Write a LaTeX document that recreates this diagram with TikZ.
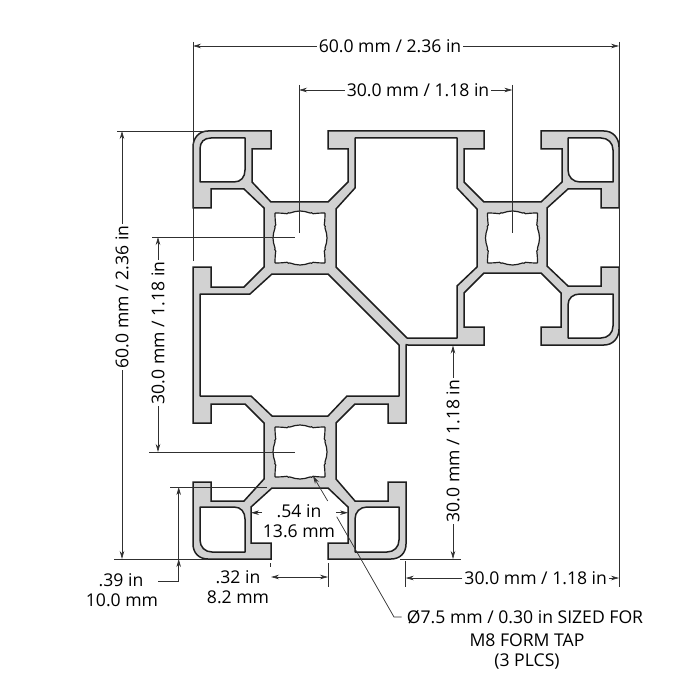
\documentclass[tikz,border=0pt]{standalone}
\usepackage{fontspec}
\setmainfont{Open Sans}
\usetikzlibrary{arrows.meta}
\definecolor{profilegray}{HTML}{D2D2D2}
\definecolor{edge}{HTML}{1E1E1E}
\definecolor{dimc}{HTML}{303030}
\tikzset{
  profile/.style={fill=profilegray,draw=edge,line width=1.5pt,line join=miter},
  hole/.style={fill=white,draw=edge,line width=1.5pt,line join=round},
  tapw/.style={fill=white,draw=edge,line width=1.2pt},
  dim/.style={draw=dimc,line width=0.7pt},
  dimar/.style={dim,-{Stealth[length=8pt,width=4.5pt]}},
  lab/.style={font=\fontsize{17.6}{20}\selectfont,text=black,inner sep=0pt,outer sep=2pt},
  tapped/.pic={\draw[tapw] plot[smooth cycle,tension=0.2] coordinates{
    (-24.5,-25) (-18,-24.8) (-13,-24.3) (-11.5,-25.2) (-10,-25) (-5,-26.4) (0,-27) (5,-26.4) (10,-25) (11.5,-25.2) (13,-24.3) (18,-24.8) (24.5,-25)
    (25,-24.5) (24.8,-18) (24.3,-13) (25.2,-11.5) (25,-10) (26.4,-5) (27,0) (26.4,5) (25,10) (25.2,11.5) (24.3,13) (24.8,18) (25,24.5)
    (24.5,25) (18,24.8) (13,24.3) (11.5,25.2) (10,25) (5,26.4) (0,27) (-5,26.4) (-10,25) (-11.5,25.2) (-13,24.3) (-18,24.8) (-24.5,25)
    (-25,24.5) (-24.8,18) (-24.3,13) (-25.2,11.5) (-25,10) (-26.4,5) (-27,0) (-26.4,-5) (-25,-10) (-25.2,-11.5) (-24.3,-13) (-24.8,-18) (-25,-24.5)};}
}
\begin{document}
\begin{tikzpicture}[x=1pt,y=-1pt]
\useasboundingbox[fill=white] (0,0) rectangle (700,700);
% profile outline
\path[profile]
 (193,147) .. controls (193,138) and (199,131) .. (208,131) -- (271,131) -- (271,149) -- (252,149) -- (252,182)
 -- (271,202) -- (328,202) -- (348,182) -- (348,149) -- (328,149) -- (328,131) -- (484,131) -- (484,149) -- (464,149) -- (464,182)
 -- (484,202) -- (541,202) -- (562,182) -- (562,149) -- (541,149) -- (541,131) -- (604,131)
 .. controls (613,131) and (619,138) .. (619,147) -- (619,208) -- (601,208) -- (601,189) -- (568,189) -- (547,208) -- (547,266)
 -- (568,286) -- (601,286) -- (601,267) -- (619,267) -- (619,329) .. controls (619,338) and (613,345) .. (604,345)
 -- (541,345) -- (541,327) -- (561,327) -- (561,293) -- (541,273) -- (484,273) -- (464,293) -- (464,327) -- (484,327) -- (484,345)
 -- (408,345) .. controls (406.5,343.5) and (405.5,345) .. (406,347) -- (406,423) -- (388,423) -- (388,404) -- (355,404) -- (336,423) -- (336,479)
 -- (355,501) -- (388,501) -- (388,482) -- (406,482) -- (406,544) .. controls (406,553) and (400,559) .. (391,559)
 -- (328,559) -- (328,543) -- (348,543) -- (348,507) -- (328,488) -- (272,488) -- (251,507) -- (251,543) -- (271,543) -- (271,559)
 -- (208,559) .. controls (199,559) and (193,553) .. (193,544) -- (193,482) -- (211,482) -- (211,501) -- (244,501) -- (264,479)
 -- (264,423) -- (245,404) -- (211,404) -- (211,423) -- (193,423) -- (193,267) -- (211,267) -- (211,287) -- (244,287) -- (264,267)
 -- (264,208) -- (244,189) -- (211,189) -- (211,208) -- (193,208) -- cycle;
% corner chambers
\path[hole] (200,182) -- (200,149) .. controls (200,142) and (204,138) .. (211,138) -- (245,138) -- (245,170)
 .. controls (245,177) and (241,182) .. (234,182) -- cycle;
\path[hole] (568,138) -- (601,138) .. controls (608,138) and (613,143) .. (613,150) -- (613,182) -- (580,182)
 .. controls (573,182) and (568,177) .. (568,170) -- cycle;
\path[hole] (613,294) -- (613,326) .. controls (613,333) and (608,338) .. (601,338) -- (568,338) -- (568,305)
 .. controls (568,298) and (573,294) .. (580,294) -- cycle;
\path[hole] (245,552) -- (212,552) .. controls (205,552) and (200,547) .. (200,540) -- (200,507) -- (234,507)
 .. controls (241,507) and (245,512) .. (245,519) -- cycle;
\path[hole] (355,552) -- (355,519) .. controls (355,512) and (360,507) .. (367,507) -- (399,507) -- (399,540)
 .. controls (399,547) and (394,552) .. (387,552) -- cycle;
% large hollows
\path[hole] (355,138) -- (457,138) -- (457,188) -- (477,209) -- (477,267) -- (457,286) -- (457,338) -- (407,338)
 -- (336,267) -- (336,209) -- (355,188) -- cycle;
\path[hole] (200,294) -- (250,294) -- (272,274) -- (328,274) -- (399,345) -- (399,396) -- (347,396) -- (328,416)
 -- (272,416) -- (251,396) -- (200,396) -- cycle;
% tapped centre holes
\pic at (300,238) {tapped};
\pic at (512.5,238) {tapped};
\pic at (300,452) {tapped};
% labels
\node[lab] (top) at (390,46) {60.0 mm / 2.36 in};
\node[lab] (sub) at (418,90) {30.0 mm / 1.18 in};
\node[lab,rotate=90] (left) at (122,297) {60.0 mm / 2.36 in};
\node[lab,rotate=90] (leftb) at (158,333) {30.0 mm / 1.18 in};
\node[lab,rotate=90] (rgt) at (453,451) {30.0 mm / 1.18 in};
\node[lab] (bot) at (535.7,578) {30.0 mm / 1.18 in};
\node[lab] (slotin) at (299,511.5) {.54 in};
\node[lab] (slotmm) at (299,531.5) {13.6 mm};
\node[lab] (tenin) at (121,580) {.39 in};
\node[lab] (tenmm) at (122,600) {10.0 mm};
\node[lab] (opin) at (238,577) {.32 in};
\node[lab] (opmm) at (238,597) {8.2 mm};
\node[lab] (tapa) at (525,617) {Ø7.5 mm / 0.30 in SIZED FOR};
\node[lab] (tapb) at (527,640) {M8 FORM TAP};
\node[lab] (tapc) at (527,662) {(3 PLCS)};
% dimension coordinates
\coordinate (tl) at (193,46); \coordinate (tr) at (619,46);
\coordinate (sl) at (299,90); \coordinate (sr) at (512.3,90);
\coordinate (lt) at (122,131); \coordinate (lb) at (122,559);
\coordinate (mt) at (158,237); \coordinate (mb) at (158,452);
\coordinate (rt) at (453,345.5); \coordinate (rb) at (453,559);
\coordinate (bl) at (405.7,578); \coordinate (br) at (619,578);
% extension lines
\draw[dim] (193,42) -- (193,261);
\draw[dim] (619,42) -- (619,587);
\draw[dim] (299,85) -- (299,233);
\draw[dim] (512.3,85) -- (512.3,233);
\draw[dim] (117,131) -- (207,131);
\draw[dim] (114,559) -- (208,559);
\draw[dim] (400,559) -- (461,559);
\draw[dim] (152,237) -- (295,237);
\draw[dim] (149,452) -- (295,452);
\draw[dim] (170,487) -- (267,487);
\draw[dim] (328,563) -- (328,587);
\draw[dim] (270.5,563) -- (270.5,567);
\draw[dim] (405.7,561) -- (405.7,587);
% dimension arrows
\draw[dimar] (top.west) -- (tl);
\draw[dimar] (top.east) -- (tr);
\draw[dimar] (sub.west) -- (sl);
\draw[dimar] (sub.east) -- (sr);
\draw[dimar] (left.east) -- (lt);
\draw[dimar] (left.west) -- (lb);
\draw[dimar] (leftb.east) -- (mt);
\draw[dimar] (leftb.west) -- (mb);
\draw[dimar] (rgt.east) -- (rt);
\draw[dimar] (rgt.west) -- (rb);
\draw[dimar] (bot.west) -- (bl);
\draw[dimar] (bot.east) -- (br);
\coordinate (sa) at (262,512.7); \coordinate (sb) at (251,512.7);
\coordinate (sc) at (336,512.7); \coordinate (sd) at (348,512.7);
\draw[dimar] (sa) -- (sb);
\draw[dimar] (sc) -- (sd);
\coordinate (oa) at (271,577); \coordinate (ob) at (328,577);
\draw[dim,{Stealth[length=8pt,width=4.5pt]}-{Stealth[length=8pt,width=4.5pt]}] (oa) -- (ob);
\coordinate (ta) at (178.7,487); \coordinate (tb) at (178.7,559); \coordinate (tc) at (178.7,581);
\draw[dimar] (tc) -- (tb);
\draw[dimar] (tb) -- (ta);
\draw[dim] (tc) -- (158,581);
% leader
\coordinate (la) at (401.5,617); \coordinate (lc) at (394,617); \coordinate (ld) at (336.7,516.7);
\coordinate (le) at (327.7,501); \coordinate (lf) at (313,476);
\draw[dim] (la) -- (lc) -- (ld);
\draw[dimar] (le) -- (lf);
\end{tikzpicture}
\end{document}
